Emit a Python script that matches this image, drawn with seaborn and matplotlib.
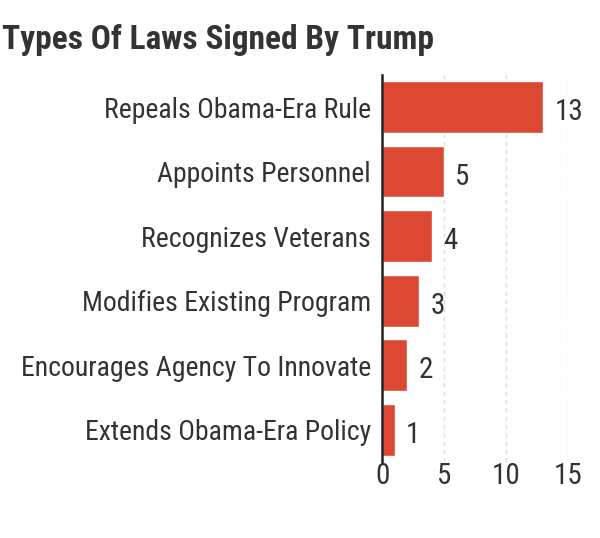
import matplotlib
matplotlib.use("Agg")
import matplotlib.pyplot as plt
import seaborn as sns
import pandas as pd

# ----------------------------------------------------------------------
# Data
# ----------------------------------------------------------------------
categories = [
    "Repeals Obama-Era Rule",
    "Appoints Personnel",
    "Recognizes Veterans",
    "Modifies Existing Program",
    "Encourages Agency To Innovate",
    "Extends Obama-Era Policy",
]
counts = [13, 5, 4, 3, 2, 1]
x_ticks = [0, 5, 10, 15]

BAR_RED = "#dd4832"
TEXT_DARK = "#333333"

sns.set_style("white")
plt.rcParams["font.family"] = ["Roboto Condensed", "DejaVu Sans"]

df = pd.DataFrame({"category": categories, "count": counts})

fig = plt.figure(figsize=(6.0, 5.38), dpi=100)
ax = fig.add_axes([0.637, 0.141, 0.310, 0.72])

sns.barplot(data=df, y="category", x="count", color=BAR_RED,
            orient="h", width=0.8, saturation=1, ax=ax)

for y, v in enumerate(counts):
    ax.text(v + 0.9, y + 0.08, str(v), ha="left", va="center",
            fontsize=21, color=TEXT_DARK)

ax.set_xlim(0, 15)
ax.set_ylim(5.5, -0.5)
ax.set_xticks(x_ticks)
ax.set_xticklabels([str(t) for t in x_ticks])
ax.xaxis.grid(True, linestyle=(0, (3, 3)), color="#dddddd", linewidth=1)
ax.set_axisbelow(True)
ax.set_xlabel("")
ax.set_ylabel("")
for s in ["top", "right", "bottom"]:
    ax.spines[s].set_visible(False)
ax.spines["left"].set_color("#222222")
ax.spines["left"].set_linewidth(1.8)
ax.tick_params(axis="y", length=0, labelsize=20, colors=TEXT_DARK, pad=8)
ax.tick_params(axis="x", length=0, labelsize=21, colors=TEXT_DARK, pad=0)

fig.text(0.004, 0.925, "Types Of Laws Signed By Trump", ha="left", va="center",
         fontsize=24, fontweight="bold", color=TEXT_DARK)

fig.savefig("out.png", dpi=100, facecolor="white")
